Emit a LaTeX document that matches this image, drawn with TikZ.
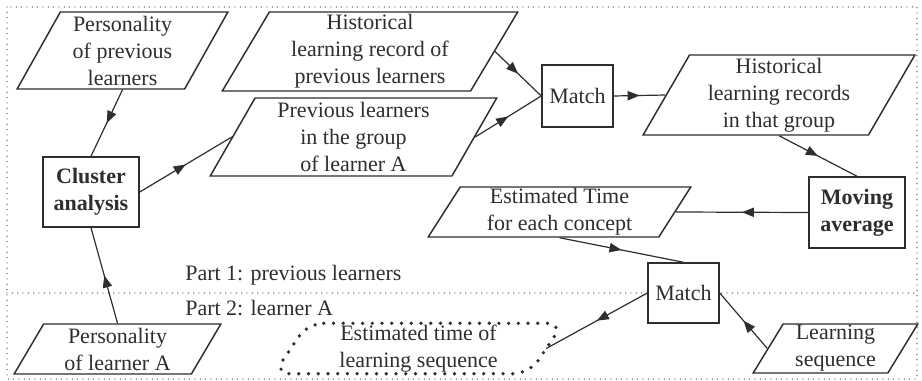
\documentclass[tikz,border=0pt]{standalone}
\usepackage{fontspec}
\setmainfont{Liberation Serif}
\usetikzlibrary{shapes.geometric, decorations.markings, arrows.meta}
\definecolor{ink}{HTML}{2E2E2E}
\begin{document}
\begin{tikzpicture}[x=0.75pt, y=-0.75pt,
  txt/.style={text=ink, font=\fontsize{16.5}{20.25}\selectfont, align=center},
  para/.style={txt, trapezium, trapezium left angle=63.5, trapezium right angle=116.5,
    trapezium stretches=true, draw=ink, line width=1.1pt, fill=white, inner sep=0pt},
  procbox/.style={txt, rectangle, draw=ink, line width=1.1pt, fill=white, inner sep=0pt},
  frameline/.style={draw=ink!80, line width=1.1pt, line cap=round, dash pattern=on 0pt off 4pt},
  bigdots/.style={draw=ink, line width=2.8pt, line cap=round, dash pattern=on 0pt off 7.3pt},
  flow/.style={draw=ink, line width=0.9pt, postaction={decorate},
    decoration={markings, mark=at position #1 with {\arrow{Triangle[length=9pt,width=7pt]}}}},
  flow/.default=0.5]
  \useasboundingbox (0,0) rectangle (922,381);

  % outer frame and the divider between the two parts
  \draw[frameline] (7,7) rectangle (917,379);
  \draw[frameline] (7,293) -- (917,293);

  % part 1: previous learners
  \node[para, minimum width=158.25pt, minimum height=57.75pt] (pp) at (122.5,50.5)
    {Personality\\of previous\\learners};
  \node[para, minimum width=222pt, minimum height=59.25pt] (hr) at (370,51.5)
    {Historical\\learning record of\\previous learners};
  \node[para, minimum width=215.25pt, minimum height=58.5pt] (pg) at (353.5,137)
    {Previous learners\\in the group\\of learner A};
  \node[procbox, minimum width=53.25pt, minimum height=46.5pt] (m1) at (577.5,96) {Match};
  \node[para, minimum width=204pt, minimum height=60pt] (hg) at (779,95)
    {Historical\\learning records\\in that group};
  \node[procbox, minimum width=72pt, minimum height=52.5pt, font=\fontsize{16.5}{20.25}\selectfont\bfseries] (ca) at (91,192)
    {Cluster\\analysis};
  \node[procbox, minimum width=72pt, minimum height=53.25pt, font=\fontsize{16.5}{20.25}\selectfont\bfseries] (ma) at (857,212.5)
    {Moving\\average};
  \node[para, minimum width=197.25pt, minimum height=37.5pt] (et) at (559.5,212)
    {Estimated Time\\for each concept};

  \node[txt, anchor=west, inner sep=0pt] (p1) at (185,275) {Part 1: previous learners};
  \node[txt, anchor=west, inner sep=0pt] (p2) at (185,308) {Part 2: learner A};

  % part 2: learner A
  \node[procbox, minimum width=53.25pt, minimum height=45pt] (m2) at (683.5,293) {Match};
  \node[para, minimum width=155.25pt, minimum height=37.5pt] (pa) at (117.5,349)
    {Personality\\of learner A};
  \node[para, minimum width=123.75pt, minimum height=36.75pt] (ls) at (835.5,348.5)
    {Learning\\sequence};
  \node[para, draw=none, fill=none, minimum width=215.25pt, minimum height=36.75pt] (es) at (418.5,348.5)
    {Estimated time of\\learning sequence};
  \draw[bigdots, rounded corners=12pt] (es.top left corner) -- (es.top right corner)
    -- (es.bottom right corner) -- (es.bottom left corner) -- cycle;

  % connectors
  \draw[flow] (pp.center |- pp.bottom side) -- (ca.north);
  \draw[flow] (pa.center |- pa.top side) -- (ca.south);
  \draw[flow] (ca.east) -- (pg.west);
  \draw[flow] (hr.east) -- (m1.west);
  \draw[flow] (pg.east) -- (m1.west);
  \draw[flow] (m1.east) -- (hg.west);
  \draw[flow] (hg.center |- hg.bottom side) -- (ma.north);
  \draw[flow] (ma.west) -- (et.east);
  \draw[flow] (et.center |- et.bottom side) -- (m2.north);
  \draw[flow] (m2.west) -- (es.east);
  \draw[flow] (ls.west) -- (m2.east);
\end{tikzpicture}
\end{document}
